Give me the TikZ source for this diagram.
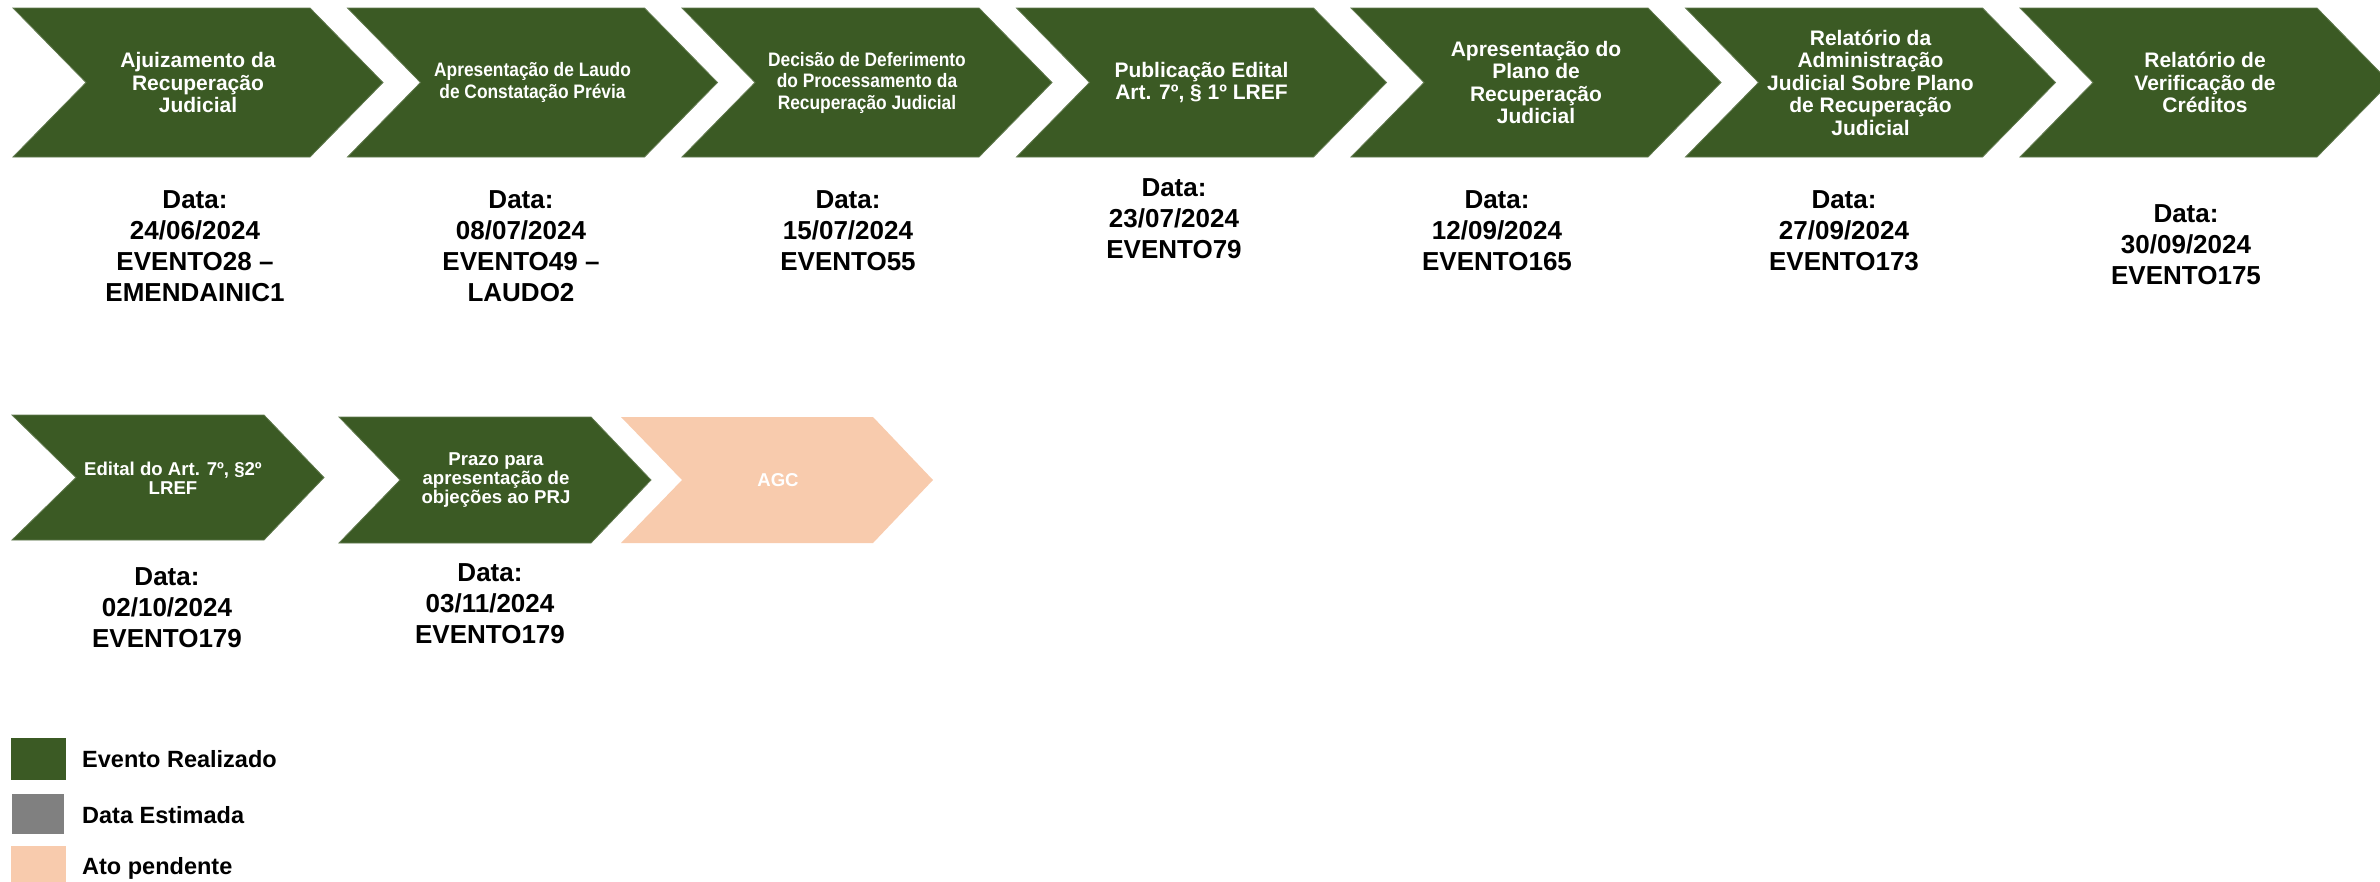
\documentclass[tikz,border=0pt]{standalone}
\usepackage{fontspec}
\setmainfont{Liberation Sans}
\newfontfamily\narrowfont[FakeStretch=0.89]{Liberation Sans}
\definecolor{chevgreen}{HTML}{3B5A24}
\definecolor{peach}{HTML}{F8CBAD}
\definecolor{legendgrey}{HTML}{808080}
\newcommand\chevpath[7]{%
  \path[#1] (#2,#3) -- (#2+#4-#5,#3) -- (#2+#4,#3+#7/2) -- (#2+#4-#5,#3+#7)
    -- (#2,#3+#7) -- (#2+#6,#3+#7/2) -- cycle;}
\tikzset{
  chevshape/.style={fill=chevgreen, draw=chevgreen!80!white, line width=0.8pt},
  pendshape/.style={fill=peach},
  chevlabel/.style={text=white, font=\bfseries\fontsize{21}{22.5}\selectfont, align=center, inner sep=0pt},
  chevlabelnarrow/.style={text=white, font=\narrowfont\bfseries\fontsize{19.5}{21.5}\selectfont, align=center, inner sep=0pt},
  chevlabelsmall/.style={text=white, font=\bfseries\fontsize{18.6}{19}\selectfont, align=center, inner sep=0pt},
  datelabel/.style={text=black, font=\bfseries\fontsize{26}{31}\selectfont, align=center, inner sep=0pt, anchor=north},
  legendlabel/.style={text=black, font=\bfseries\fontsize{23.5}{28}\selectfont, anchor=base west, inner sep=0pt},
}
\begin{document}
\begin{tikzpicture}[x=1pt,y=-1pt]
\useasboundingbox (0,0) rectangle (2380,881);
% ---- row 1 chevrons
\chevpath{chevshape}{13}{8}{370}{73}{73}{149}
\chevpath{chevshape}{347.5}{8}{370}{73}{73}{149}
\chevpath{chevshape}{682}{8}{370}{73}{73}{149}
\chevpath{chevshape}{1016.5}{8}{370}{73}{73}{149}
\chevpath{chevshape}{1351}{8}{370}{73}{73}{149}
\chevpath{chevshape}{1685.5}{8}{370}{73}{73}{149}
\chevpath{chevshape}{2020}{8}{370}{73}{73}{149}
\node[chevlabel] (c1) at (198,82.5) {Ajuizamento da\\Recuperação\\Judicial};
\node[chevlabelnarrow] (c2) at (532.5,82.5) {Apresentação de Laudo\\de Constatação Prévia};
\node[chevlabelnarrow] (c3) at (867,82.5) {Decisão de Deferimento\\do Processamento da\\Recuperação Judicial};
\node[chevlabel] (c4) at (1201.5,82.5) {Publicação Edital\\Art. 7º, § 1º LREF};
\node[chevlabel] (c5) at (1536,82.5) {Apresentação do\\Plano de\\Recuperação\\Judicial};
\node[chevlabel] (c6) at (1870.5,82.5) {Relatório da\\Administração\\Judicial Sobre Plano\\de Recuperação\\Judicial};
\node[chevlabel] (c7) at (2205,82.5) {Relatório de\\Verificação de\\Créditos};
% ---- row 1 dates
\node[datelabel] (d1) at (195,190.4) {Data:\\24/06/2024\\EVENTO28 –\\EMENDAINIC1};
\node[datelabel] (d2) at (521,190.4) {Data:\\08/07/2024\\EVENTO49 –\\LAUDO2};
\node[datelabel] (d3) at (848,190.4) {Data:\\15/07/2024\\EVENTO55};
\node[datelabel] (d4) at (1174,178.4) {Data:\\23/07/2024\\EVENTO79};
\node[datelabel] (d5) at (1497,190.4) {Data:\\12/09/2024\\EVENTO165};
\node[datelabel] (d6) at (1844,190.4) {Data:\\27/09/2024\\EVENTO173};
\node[datelabel] (d7) at (2186,204.4) {Data:\\30/09/2024\\EVENTO175};
% ---- row 2 chevrons
\chevpath{chevshape}{12}{415}{312}{60}{64}{125}
\chevpath{chevshape}{339}{417}{312}{60}{61}{126}
\chevpath{pendshape}{621}{417}{312}{60}{61}{126}
\node[chevlabelsmall] (c8) at (173,478) {Edital do Art. 7º, §2º\\LREF};
\node[chevlabelsmall] (c9) at (496,480) {Prazo para\\apresentação de\\objeções ao PRJ};
\node[chevlabelsmall] (c10) at (778,480) {AGC};
% ---- row 2 dates
\node[datelabel] (d8) at (167,567.4) {Data:\\02/10/2024\\EVENTO179};
\node[datelabel] (d9) at (490,563.4) {Data:\\03/11/2024\\EVENTO179};
% ---- legend
\fill[chevgreen] (11,738) rectangle (66,780);
\fill[legendgrey] (12,794) rectangle (64,834);
\fill[peach] (11,846) rectangle (66,888);
\node[legendlabel] (l1) at (82,767) {Evento Realizado};
\node[legendlabel] (l2) at (82,823) {Data Estimada};
\node[legendlabel] (l3) at (82,874) {Ato pendente};
\end{tikzpicture}
\end{document}
